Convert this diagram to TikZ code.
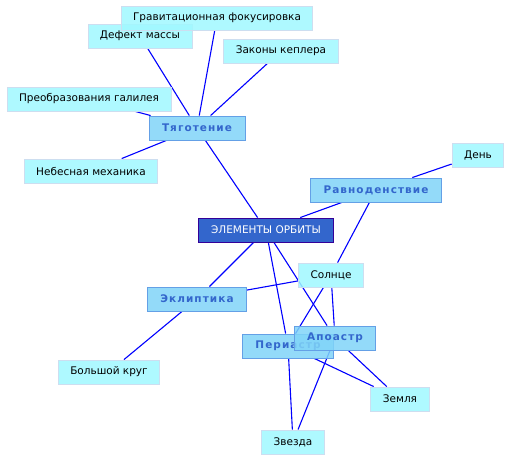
\documentclass[tikz,border=0pt]{standalone}
\usepackage{fontspec}
\setmainfont{DejaVu Sans}
\usepackage{xcolor}
\usetikzlibrary{arrows.meta,positioning}

\definecolor{leafFill}{RGB}{160,248,255}
\definecolor{leafLine}{RGB}{205,222,240}
\definecolor{topicFill}{RGB}{128,212,248}
\definecolor{topicLine}{RGB}{100,160,230}
\definecolor{topicText}{RGB}{51,102,204}
\definecolor{rootFill}{RGB}{51,102,204}
\definecolor{rootLine}{RGB}{51,0,153}

\pgfdeclarelayer{back}
\pgfsetlayers{back,main}

\begin{document}
\begin{tikzpicture}[
  x=1pt, y=-1pt,
  font=\fontsize{10.5}{12}\selectfont,
  box/.style={draw, line width=0.9pt, inner xsep=12pt, inner ysep=0pt, minimum height=24pt, fill opacity=0.85, text opacity=1},
  leaf/.style={box, fill=leafFill, draw=leafLine},
  topic/.style={box, fill=topicFill, draw=topicLine, text=topicText, inner xsep=13pt,
    font=\fontsize{10.5}{12}\selectfont\bfseries\addfontfeature{LetterSpace=10}},
  root/.style={box, fill=rootFill, draw=rootLine, text=white, inner xsep=13pt, fill opacity=1},
  link/.style={draw=blue, line width=1.1pt},
]
  \useasboundingbox (0,0) rectangle (511,461);

  % topic nodes
  \node[leaf] (defekt) at (140,36) {Дефект массы};
  \node[leaf] (grav) at (217,18) {Гравитационная фокусировка};
  \node[leaf] (kepler) at (281,51) {Законы кеплера};
  \node[leaf] (galilei) at (89,99) {Преобразования галилея};
  \node[topic] (tyag) at (197,128) {Тяготение};
  \node[leaf] (nebmeh) at (91,171) {Небесная механика};
  \node[leaf] (den) at (478,155) {День};
  \node[topic] (ravn) at (376,190) {Равноденствие};
  \node[root] (orbit) at (266,230) {ЭЛЕМЕНТЫ ОРБИТЫ};
  \node[leaf] (solnce) at (331,275) {Солнце};
  \node[topic] (eklip) at (197,299) {Эклиптика};
  \node[topic] (peri) at (288,346) {Периастр};
  \node[topic] (apo) at (335,338) {Апоастр};
  \node[leaf] (krug) at (109,372) {Большой круг};
  \node[leaf] (zemlya) at (400,399) {Земля};
  \node[leaf] (zvezda) at (293,442) {Звезда};

  % links, drawn behind the boxes
  \begin{pgfonlayer}{back}
    \foreach \a/\b in {tyag/grav, tyag/defekt, tyag/kepler, tyag/galilei, tyag/nebmeh,
                       tyag/orbit, ravn/den, ravn/orbit, ravn/solnce, orbit/eklip,
                       orbit/peri, orbit/apo, eklip/solnce, eklip/krug, solnce/peri,
                       solnce/apo, peri/zvezda, apo/zvezda, peri/zemlya, apo/zemlya}
      \draw[link] (\a) -- (\b);
  \end{pgfonlayer}
\end{tikzpicture}
\end{document}
